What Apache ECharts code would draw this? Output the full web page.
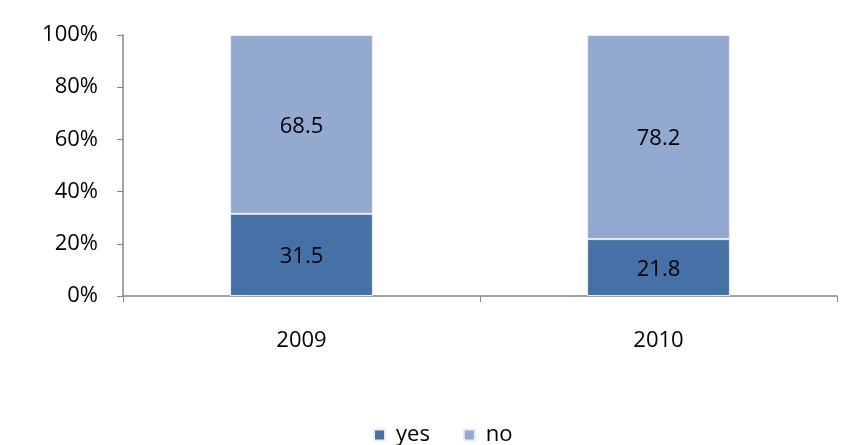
<!DOCTYPE html>
<html><head><meta charset="utf-8">
<script src="https://cdn.jsdelivr.net/npm/echarts@6/dist/echarts.min.js"></script>
<style>html,body{margin:0;padding:0;background:#fff}#c{width:856px;height:445px}</style>
</head><body><div id="c"></div>
<script>
const categories = ['2009', '2010'];
const yesValues = [31.5, 21.8];
const noValues = [68.5, 78.2];
const yTicks = [0, 20, 40, 60, 80, 100];

const font = '"Open Sans", sans-serif';
const chart = echarts.init(document.getElementById('c'));
chart.setOption({
  animation: false,
  backgroundColor: '#fff',
  grid: {left: 123, right: 19, top: 35, bottom: 149},
  legend: {
    top: 419, left: 368, itemWidth: 11, itemHeight: 11, itemGap: 33,
    icon: 'rect',
    textStyle: {fontFamily: font, fontSize: 22, color: '#000', padding: [0, 0, 0, 6]},
    data: ['yes', 'no']
  },
  xAxis: {
    type: 'category', data: categories,
    axisLine: {lineStyle: {color: '#868686', width: 1.5}},
    axisTick: {show: true, length: 6, lineStyle: {color: '#868686'}},
    axisLabel: {fontFamily: font, fontSize: 22, color: '#000', margin: 34}
  },
  yAxis: {
    type: 'value', min: 0, max: 100, interval: 20,
    splitLine: {show: false},
    axisLine: {show: true, lineStyle: {color: '#868686', width: 1.5}},
    axisTick: {show: true, length: 6, lineStyle: {color: '#868686'}},
    axisLabel: {fontFamily: font, fontSize: 22, color: '#000', margin: 25,
      formatter: v => yTicks.includes(v) ? v + '%' : ''}
  },
  series: [
    {name: 'yes', type: 'bar', stack: 'a', data: yesValues, barWidth: '40%',
     itemStyle: {color: '#4571A7', borderColor: '#e8ecf4', borderWidth: 1},
     label: {show: true, position: 'inside', offset: [0, 2], fontFamily: font, fontSize: 22, color: '#000'}},
    {name: 'no', type: 'bar', stack: 'a', data: noValues, barWidth: '40%',
     itemStyle: {color: '#94A9D0', borderColor: '#e8ecf4', borderWidth: 1},
     label: {show: true, position: 'inside', offset: [0, 2], fontFamily: font, fontSize: 22, color: '#000'}}
  ]
});
</script></body></html>
